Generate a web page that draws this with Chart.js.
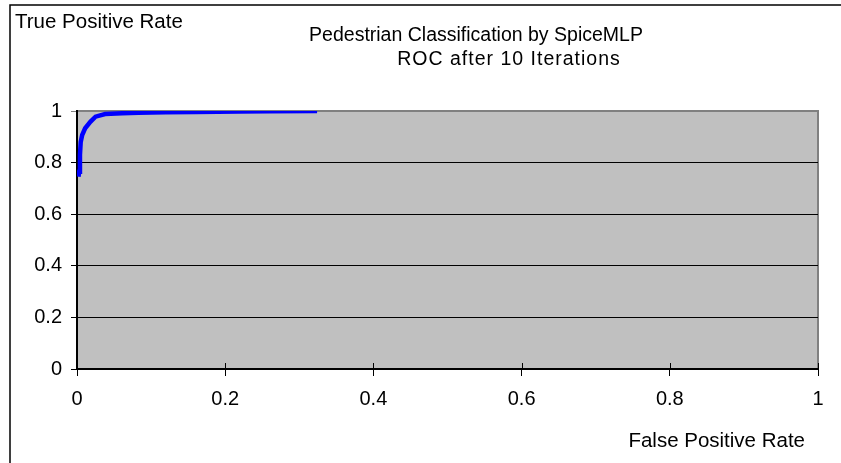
<!DOCTYPE html>
<html>
<head>
<meta charset="utf-8">
<title>Pedestrian Classification ROC</title>
<script src="https://cdn.jsdelivr.net/npm/chart.js@4.4.1/dist/chart.umd.min.js"></script>
<style>
    html, body { margin: 0; padding: 0; background: #fff; }
    #wrap { position: relative; width: 841px; height: 463px; }
</style>
</head>
<body>
<div id="wrap"><canvas id="roc" width="841" height="463"></canvas></div>
<script>
'use strict';

// ROC curve points (false positive rate / true positive rate)
const fpr = [0.002, 0.003, 0.004, 0.005, 0.007, 0.011, 0.018, 0.025, 0.038, 0.061, 0.083, 0.12, 0.16, 0.22, 0.26, 0.324];
const tpr = [0.745, 0.765, 0.83, 0.88, 0.907, 0.933, 0.958, 0.978, 0.988, 0.991, 0.993, 0.995, 0.996, 0.998, 0.999, 1.0];

// axis ticks
const xTicks = [0, 0.2, 0.4, 0.6, 0.8, 1];
const yTicks = [0, 0.2, 0.4, 0.6, 0.8, 1];

// texts
const titleLines = ['Pedestrian Classification by SpiceMLP', 'ROC after 10 Iterations'];
const yAxisName = 'True Positive Rate';
const xAxisName = 'False Positive Rate';

const FONT = '"Liberation Sans", Arial, sans-serif';
const roc = document.getElementById('roc');
let rocChart;

// grey plot area, frame and the excel-style texts
const excelLook = {
    id: 'excelLook',
    beforeDraw(chart) {
        const { ctx, chartArea: a } = chart;
        ctx.save();
        ctx.fillStyle = '#fff';
        ctx.fillRect(0, 0, chart.width, chart.height);
        // outer frame (only top/left visible, cropped)
        ctx.strokeStyle = '#000';
        ctx.lineWidth = 1.5;
        ctx.strokeRect(10, 5, 1000, 1000);
        // plot area
        ctx.fillStyle = '#c0c0c0';
        ctx.fillRect(a.left, a.top, a.right - a.left, a.bottom - a.top);
        ctx.strokeStyle = '#808080';
        ctx.lineWidth = 2;
        ctx.beginPath();
        ctx.moveTo(a.left, a.top);
        ctx.lineTo(a.right, a.top);
        ctx.lineTo(a.right, a.bottom);
        ctx.stroke();
        ctx.restore();
    },
    afterDraw(chart) {
        const { ctx, chartArea: a } = chart;
        const xs = chart.scales.x;
        ctx.save();
        // x ticks also cross the axis upward
        ctx.strokeStyle = '#000';
        ctx.lineWidth = 1;
        xTicks.forEach(v => {
            const px = Math.round(xs.getPixelForValue(v)) + 0.5;
            ctx.beginPath();
            ctx.moveTo(px, a.bottom - 6);
            ctx.lineTo(px, a.bottom);
            ctx.stroke();
        });
        ctx.fillStyle = '#000';
        ctx.textBaseline = 'alphabetic';
        ctx.font = '19.5px ' + FONT;
        ctx.textAlign = 'center';
        ctx.fillText(titleLines[0], 476, 41);
        ctx.letterSpacing = '1px';
        ctx.fillText(titleLines[1], 509, 65);
        ctx.letterSpacing = '0px';
        ctx.font = '20.5px ' + FONT;
        ctx.textAlign = 'left';
        ctx.fillText(yAxisName, 15, 28);
        ctx.textAlign = 'right';
        ctx.fillText(xAxisName, 805, 447);
        ctx.restore();
    }
};

window.onload = function () {
    drawChart_f();
}

function drawChart_f() {
    const points = fpr.map((x, i) => ({ x: x, y: tpr[i] }));

    const data = {
        datasets: [{
            label: 'ROC',
            data: points,
            showLine: true,
            borderColor: '#0000ff',
            backgroundColor: '#0000ff',
            borderWidth: 4.5,
            pointRadius: 0,
            tension: 0
        }]
    };

    const config = {
        type: 'scatter',
        data,
        options: {
            responsive: false,
            animation: false,
            events: [],
            layout: { padding: { top: 111, right: 23, left: 0, bottom: 0 } },
            plugins: {
                legend: { display: false },
                title: { display: false },
                tooltip: { enabled: false }
            },
            scales: {
                x: {
                    type: 'linear',
                    min: 0,
                    max: 1,
                    afterFit: s => { s.height = 94; },
                    afterBuildTicks: s => { s.ticks = xTicks.map(v => ({ value: v })); },
                    grid: { drawOnChartArea: false, color: '#000', tickLength: 7, tickWidth: 1 },
                    border: { color: '#000', width: 2 },
                    ticks: {
                        color: '#000', padding: 11, maxRotation: 0,
                        font: { family: FONT, size: 20 },
                        callback: v => String(v)
                    }
                },
                y: {
                    type: 'linear',
                    min: 0,
                    max: 1,
                    afterFit: s => { s.width = 77; },
                    afterBuildTicks: s => { s.ticks = yTicks.map(v => ({ value: v })); },
                    grid: {
                        color: ctx => (ctx.tick && ctx.tick.value === 1 ? '#808080' : '#000'),
                        lineWidth: 1,
                        tickLength: 6
                    },
                    border: { color: '#000', width: 2 },
                    ticks: {
                        color: '#000', padding: 9,
                        font: { family: FONT, size: 20 },
                        callback: v => String(v)
                    }
                }
            }
        },
        plugins: [excelLook]
    };

    rocChart = new Chart(roc, config);
}
</script>
</body>
</html>
